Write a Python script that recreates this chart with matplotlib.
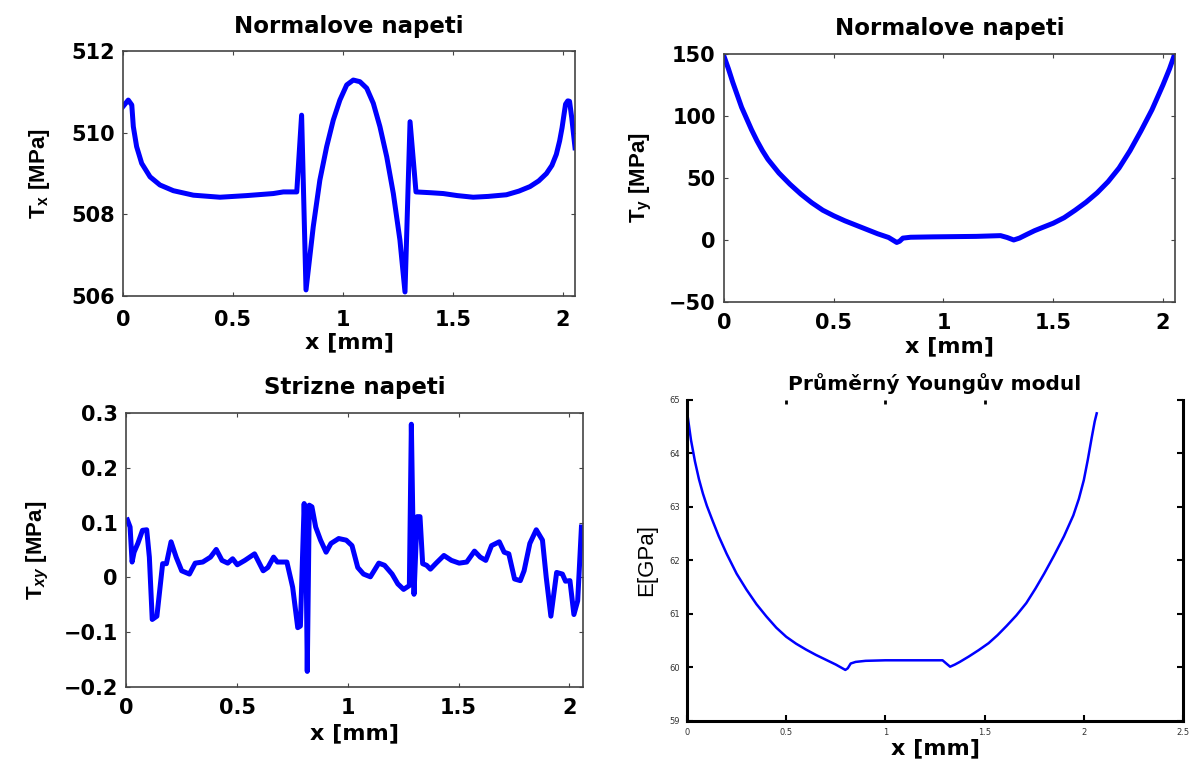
import matplotlib
matplotlib.use("Agg")
import matplotlib.pyplot as plt

plt.rcParams['font.family'] = ['DejaVu Sans']
plt.rcParams['mathtext.fontset'] = 'custom'
plt.rcParams['mathtext.rm'] = 'Liberation Sans'
plt.rcParams['mathtext.bf'] = 'Liberation Sans:bold'
plt.rcParams['mathtext.it'] = 'Liberation Sans:italic:bold'

# --- normal stress T_x along the section ---
tx_x = [0.0, 0.024, 0.04, 0.047, 0.062, 0.085, 0.123, 0.168, 0.229, 0.32,
        0.441, 0.562, 0.683, 0.729, 0.774, 0.79, 0.812, 0.832, 0.865, 0.895,
        0.926, 0.956, 0.986, 1.017, 1.047, 1.077, 1.108, 1.138, 1.168, 1.199,
        1.229, 1.259, 1.282, 1.305, 1.332, 1.40, 1.456, 1.52, 1.592, 1.66,
        1.743, 1.80, 1.85, 1.89, 1.925, 1.95, 1.97, 1.985, 1.996, 2.005,
        2.012, 2.022, 2.03, 2.04, 2.055]
tx_val = [510.64, 510.80, 510.68, 510.15, 509.66, 509.25, 508.92, 508.72,
          508.58, 508.47, 508.42, 508.46, 508.51, 508.55, 508.55, 508.55,
          510.43, 506.15, 507.70, 508.84, 509.66, 510.31, 510.80, 511.17,
          511.29, 511.25, 511.09, 510.72, 510.15, 509.41, 508.51, 507.37,
          506.10, 510.27, 508.55, 508.53, 508.51, 508.46, 508.42, 508.44,
          508.48, 508.57, 508.68, 508.82, 509.00, 509.20, 509.47, 509.80,
          510.12, 510.45, 510.70, 510.78, 510.77, 510.37, 509.63]

# --- normal stress T_y ---
ty_x = [0.0, 0.02, 0.04, 0.06, 0.08, 0.10, 0.125, 0.15, 0.175, 0.20, 0.25,
        0.30, 0.35, 0.40, 0.45, 0.50, 0.55, 0.60, 0.65, 0.70, 0.75, 0.787,
        0.80, 0.815, 0.85, 0.95, 1.05, 1.15, 1.26, 1.29, 1.32, 1.346, 1.38,
        1.415, 1.45, 1.50, 1.55, 1.60, 1.65, 1.70, 1.75, 1.80, 1.85, 1.90,
        1.95, 2.00, 2.03, 2.05]
ty_val = [148, 138, 127, 117, 107, 99, 89, 80, 72, 65, 54, 45, 37, 30, 24,
          19.5, 15.5, 12, 8.5, 5, 2, -2, -1, 1.5, 2.2, 2.5, 2.7, 2.9, 3.5, 2,
          0, 1.5, 4.5, 7.5, 10, 13.5, 18, 24, 30.5, 38, 47, 58, 72, 88, 105,
          125, 138, 148]

# --- shear stress T_xy ---
txy_x = [0.005, 0.017, 0.026, 0.035, 0.052, 0.073, 0.092, 0.104, 0.117, 0.138,
         0.164, 0.181, 0.202, 0.225, 0.250, 0.285, 0.311, 0.345, 0.380, 0.406,
         0.432, 0.458, 0.480, 0.501, 0.535, 0.579, 0.618, 0.639, 0.665, 0.682,
         0.725, 0.751, 0.774, 0.786, 0.803, 0.812, 0.817, 0.826, 0.838, 0.855,
         0.877, 0.902, 0.924, 0.959, 0.993, 1.019, 1.045, 1.071, 1.102, 1.140,
         1.166, 1.200, 1.226, 1.252, 1.278, 1.287, 1.299, 1.313, 1.326, 1.338,
         1.356, 1.373, 1.399, 1.434, 1.468, 1.503, 1.537, 1.572, 1.598, 1.623,
         1.649, 1.684, 1.706, 1.727, 1.753, 1.779, 1.796, 1.822, 1.851, 1.879,
         1.896, 1.917, 1.943, 1.969, 1.983, 2.003, 2.021, 2.038, 2.055]
txy_val = [0.105, 0.092, 0.028, 0.046, 0.062, 0.086, 0.087, 0.037, -0.077,
           -0.071, 0.025, 0.025, 0.065, 0.037, 0.012, 0.006, 0.026, 0.028,
           0.037, 0.051, 0.031, 0.026, 0.034, 0.023, 0.031, 0.043, 0.012,
           0.018, 0.037, 0.028, 0.028, -0.018, -0.092, -0.089, 0.135, 0.025,
           -0.172, 0.132, 0.129, 0.092, 0.068, 0.046, 0.062, 0.071, 0.068,
           0.058, 0.018, 0.006, 0.001, 0.026, 0.022, 0.006, -0.012, -0.022,
           -0.015, 0.280, -0.031, 0.111, 0.111, 0.025, 0.022, 0.015, 0.026,
           0.040, 0.031, 0.026, 0.028, 0.048, 0.037, 0.031, 0.058, 0.065,
           0.046, 0.043, -0.003, -0.006, 0.012, 0.062, 0.087, 0.068, 0.000,
           -0.071, 0.009, 0.006, -0.007, -0.006, -0.068, -0.043, 0.092]

# --- mean Young's modulus ---
e_x = [0.0, 0.02, 0.04, 0.06, 0.08, 0.10, 0.13, 0.16, 0.20, 0.25, 0.30, 0.35,
       0.40, 0.45, 0.50, 0.55, 0.60, 0.65, 0.70, 0.75, 0.798, 0.81, 0.825,
       0.85, 0.90, 1.00, 1.10, 1.20, 1.288, 1.31, 1.326, 1.35, 1.375, 1.42,
       1.47, 1.52, 1.565, 1.61, 1.66, 1.71, 1.756, 1.80, 1.85, 1.90, 1.947,
       1.975, 2.00, 2.02, 2.04, 2.055, 2.065]
e_val = [64.78, 64.25, 63.85, 63.52, 63.25, 63.02, 62.73, 62.45, 62.12, 61.75,
         61.45, 61.18, 60.95, 60.74, 60.57, 60.44, 60.33, 60.23, 60.14, 60.05,
         59.95, 59.98, 60.07, 60.10, 60.12, 60.13, 60.13, 60.13, 60.13, 60.06,
         60.01, 60.05, 60.10, 60.20, 60.32, 60.45, 60.60, 60.77, 60.97, 61.20,
         61.47, 61.75, 62.09, 62.45, 62.84, 63.15, 63.50, 63.88, 64.30, 64.60,
         64.75]

x_ticks = [0, 0.5, 1, 1.5, 2]
x_tick_labels = ['0', '0.5', '1', '1.5', '2']
x_ticks_e = [0, 0.5, 1, 1.5, 2, 2.5]

BLUE = '#0000ff'
TICK_FS = 15
XLABEL_FS = 16
YLABEL_FS = 16
TITLE_FS = 16.5

fig = plt.figure(figsize=(11.94, 7.62), dpi=100)


def style_main(ax):
    for s in ax.spines.values():
        s.set_color('#444444')
        s.set_linewidth(1.2)
    ax.tick_params(direction='in', length=3, width=0.8, color='#444444',
                   top=True, right=True, labelsize=TICK_FS)
    ax.tick_params(axis='x', pad=10)
    ax.tick_params(axis='y', pad=6)
    for lbl in ax.get_xticklabels() + ax.get_yticklabels():
        lbl.set_fontweight('bold')


def ylabel_main(ax, text, pad):
    ax.set_ylabel(text, fontsize=YLABEL_FS, fontweight='bold',
                  family='Liberation Sans', labelpad=pad)


# top-left
ax1 = fig.add_axes([0.1030, 0.6115, 0.3786, 0.3215])
ax1.plot(tx_x, tx_val, color=BLUE, lw=3.6, solid_joinstyle='round')
ax1.set_xlim(0, 2.055)
ax1.set_ylim(506, 512)
ax1.set_xticks(x_ticks)
ax1.set_xticklabels(x_tick_labels)
ax1.set_yticks([506, 508, 510, 512])
style_main(ax1)
ax1.set_title('Normalove napeti', fontsize=TITLE_FS, fontweight='bold', pad=13)
ax1.set_xlabel('x [mm]', fontsize=XLABEL_FS, fontweight='bold', labelpad=2)
ylabel_main(ax1, r'T$_\mathbf{x}$ [MPa]', 14)

# top-right
ax2 = fig.add_axes([0.6064, 0.6037, 0.3777, 0.3255])
ax2.plot(ty_x, ty_val, color=BLUE, lw=3.6, solid_joinstyle='round')
ax2.set_xlim(0, 2.055)
ax2.set_ylim(-50, 150)
ax2.set_xticks(x_ticks)
ax2.set_xticklabels(x_tick_labels)
ax2.set_yticks([-50, 0, 50, 100, 150])
style_main(ax2)
ax2.tick_params(axis='x', pad=8)
ax2.set_title('Normalove napeti', fontsize=TITLE_FS, fontweight='bold', pad=14)
ax2.set_xlabel('x [mm]', fontsize=XLABEL_FS, fontweight='bold', labelpad=2)
ylabel_main(ax2, r'T$_\mathbf{y}$ [MPa]', 11)

# bottom-left
ax3 = fig.add_axes([0.1058, 0.0988, 0.3821, 0.3588])
ax3.plot(txy_x, txy_val, color=BLUE, lw=3.6, solid_joinstyle='round')
ax3.set_xlim(0, 2.06)
ax3.set_ylim(-0.2, 0.3)
ax3.set_xticks(x_ticks)
ax3.set_xticklabels(x_tick_labels)
ax3.set_yticks([-0.2, -0.1, 0, 0.1, 0.2, 0.3])
ax3.set_yticklabels(['\u22120.2', '\u22120.1', '0', '0.1', '0.2', '0.3'])
style_main(ax3)
ax3.tick_params(axis='x', pad=8)
ax3.set_title('Strizne napeti', fontsize=TITLE_FS, fontweight='bold', pad=14)
ax3.set_xlabel('x [mm]', fontsize=XLABEL_FS, fontweight='bold', labelpad=4)
ylabel_main(ax3, r'T$_{xy}$ [MPa]', 9)

# bottom-right
ax4 = fig.add_axes([0.5754, 0.0542, 0.4154, 0.4209])
ax4.plot(e_x, e_val, color=BLUE, lw=1.8)
ax4.set_xlim(0, 2.5)
ax4.set_ylim(59, 65)
ax4.set_xticks(x_ticks_e)
ax4.set_xticklabels(['0', '0.5', '1', '1.5', '2', '2.5'])
ax4.set_yticks([59, 60, 61, 62, 63, 64, 65])
ax4.spines['top'].set_visible(False)
for side in ['left', 'right', 'bottom']:
    ax4.spines[side].set_linewidth(2.2)
    ax4.spines[side].set_color('black')
ax4.tick_params(direction='in', length=4, width=1.5, right=True,
                labelsize=6, pad=5, labelcolor='#333333')
sec = ax4.secondary_xaxis('top')
sec.set_xticks([0.5, 1, 1.5])
sec.tick_params(direction='in', length=3, width=2, labeltop=False)
sec.spines['top'].set_visible(False)
ax4.set_title('Průměrný Youngův modul', fontsize=14.5, fontweight='bold', pad=7)
ax4.set_xlabel('x [mm]', fontsize=XLABEL_FS, fontweight='bold', labelpad=1)
ax4.set_ylabel('E[GPa]', fontsize=16, family='Liberation Sans', labelpad=9)

fig.savefig('out.png', dpi=100)
